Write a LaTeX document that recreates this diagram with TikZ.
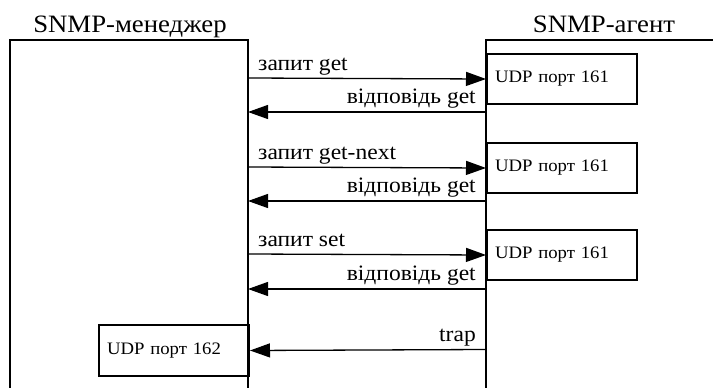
\documentclass[tikz,border=0pt]{standalone}
\usepackage{fontspec}
\setmainfont{Liberation Serif}[FakeStretch=1.07]
\usetikzlibrary{arrows.meta}
\begin{document}
\begin{tikzpicture}[x=1pt,y=-1pt,
  wall/.style={line width=2pt},
  port/.style={draw,line width=2pt,minimum width=150pt,minimum height=50pt,text width=134pt,inner xsep=8pt,inner ysep=0pt,align=left,font=\fontsize{17.5}{20}\selectfont,anchor=north west},
  msg/.style={line width=1.3pt,-{Triangle[length=20pt,width=14pt]}},
  lbl/.style={font=\fontsize{22}{26}\selectfont,inner sep=0pt},
  ttl/.style={font=\fontsize{25}{29}\selectfont,inner sep=0pt,anchor=base}]
\useasboundingbox (0,0) rectangle (713,388);
% titles
\node[ttl] (tm) at (130,32) {SNMP-менеджер};
\node[ttl] (ta) at (604,32) {SNMP-агент};
% lifelines (boxes open at bottom)
\draw[wall] (10,390) -- (10,40) -- (248,40) -- (248,390);
\draw[wall] (486,390) -- (486,40) -- (716,40);
% port boxes
\node[port] (p1) at (486,53) {UDP порт 161};
\node[port] (p2) at (486,142) {UDP порт 161};
\node[port] (p3) at (486,229) {UDP порт 161};
\node[port,minimum height=51pt] (p4) at (98,324) {UDP порт 162};
% coordinates on lifelines
\coordinate (l1) at (248,78);
\coordinate (r1) at (486,112);
\coordinate (b1) at (248,112);
\coordinate (l2) at (248,167);
\coordinate (r2) at (486,201);
\coordinate (b2) at (248,201);
\coordinate (l3) at (248,254);
\coordinate (r3) at (486,289);
\coordinate (b3) at (248,289);
\coordinate (r4) at (486,349.5);
% messages
\draw[msg] (l1) -- (p1.west);
\draw[msg] (r1) -- (b1);
\draw[msg] (l2) -- (p2.west);
\draw[msg] (r2) -- (b2);
\draw[msg] (l3) -- (p3.west);
\draw[msg] (r3) -- (b3);
\draw[msg] (r4) -- (p4.east);
% labels
\node[lbl,anchor=base west] (m1) at (258,70) {запит get};
\node[lbl,anchor=base east] (m2) at (476,103) {відповідь get};
\node[lbl,anchor=base west] (m3) at (258,159) {запит get-next};
\node[lbl,anchor=base east] (m4) at (476,192) {відповідь get};
\node[lbl,anchor=base west] (m5) at (258,246) {запит set};
\node[lbl,anchor=base east] (m6) at (476,280) {відповідь get};
\node[lbl,anchor=base east] (m7) at (476,341) {trap};
\end{tikzpicture}
\end{document}
